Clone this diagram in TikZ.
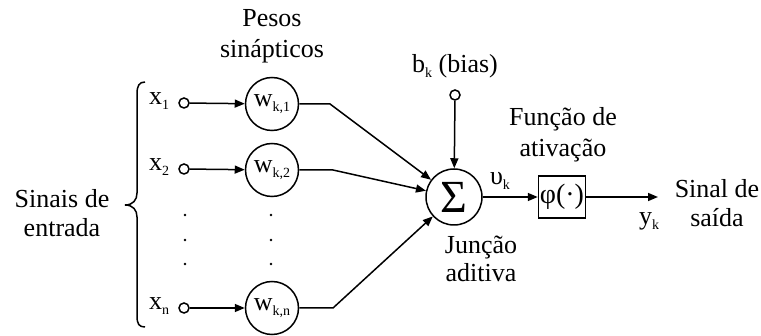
\documentclass[tikz,border=0pt]{standalone}
\usepackage{fontspec}
\setmainfont{Liberation Serif}
\newfontfamily\plainserif{Liberation Serif}
\usetikzlibrary{arrows.meta}
\newcommand\sbx[1]{\raisebox{-0.45ex}{\fontsize{7}{8}\selectfont #1}}
\tikzset{
  lbl/.style={font=\fontsize{13}{14.2}\selectfont, align=center, inner sep=0pt},
  var/.style={font=\fontsize{13}{15}\selectfont, inner sep=0pt},
  inp/.style={circle, draw, line width=0.75pt, minimum size=5pt, inner sep=0pt},
  wcirc/.style={circle, draw, line width=0.75pt, minimum size=26.5pt, inner sep=0pt, font=\fontsize{13}{15}\selectfont},
  sumc/.style={circle, draw, line width=0.75pt, minimum size=28pt, inner sep=0pt},
  actbox/.style={rectangle, draw, line width=0.75pt, minimum width=23.5pt, minimum height=21pt, inner sep=0pt, font=\fontsize{14}{15}\selectfont},
  arr/.style={line width=0.75pt, -{Triangle[length=5pt,width=4pt]}},
  ln/.style={line width=0.75pt},
  dotc/.style={circle, fill, minimum size=1.4pt, inner sep=0pt},
}
\begin{document}
\begin{tikzpicture}[x=0.5pt, y=-0.5pt]
\useasboundingbox (0,0) rectangle (761,336);
% labels
\node[lbl] (pesos) at (272,36) {Pesos\\[1.4pt]sinápticos};
\node[lbl] (sinais) at (62,213) {Sinais de\\entrada};
\node[lbl] (bias) at (455,66) {b\sbx{k} (bias)};
\node[lbl] (funcao) at (563,135) {Função de\\[1.4pt]ativação};
\node[lbl] (juncao) at (481,259) {Junção\\aditiva};
\node[lbl] (saida) at (717,203) {Sinal de\\saída};
% inputs
\node[var] (x1) at (159,101) {x\sbx{1}};
\node[var] (x2) at (159,167) {x\sbx{2}};
\node[var] (xn) at (159,306) {x\sbx{n}};
\node[inp] (i1) at (184,103) {};
\node[inp] (i2) at (184,169) {};
\node[inp] (in) at (184,308) {};
% weights
\node[wcirc] (w1) at (272,104) {w\sbx{k,1}};
\node[wcirc] (w2) at (272,170) {w\sbx{k,2}};
\node[wcirc] (wn) at (272,308) {w\sbx{k,n}};
% dots
\foreach \yy/\nm in {215/a,240/b,264/c} {
  \node[dotc] (dl\nm) at (185,\yy) {};
  \node[dotc] (dr\nm) at (271,\yy) {};
}
% sum, bias, activation
\node[sumc] (sum) at (454,197) {\plainserif\fontsize{23}{23}\selectfont Σ};
\node[inp] (bi) at (455,95) {};
\node[actbox] (phi) at (562,197) {φ(·)};
\node[var] (vk) at (500,181) {υ\sbx{k}};
\node[var] (yk) at (649,221) {y\sbx{k}};
% brace
\draw[ln] (145,82) .. controls (139,82) and (137,86) .. (137,94) -- (137,193)
  .. controls (137,200) and (133,205) .. (125,205)
  .. controls (133,205) and (137,210) .. (137,217) -- (137,316)
  .. controls (137,324) and (139,327) .. (145,327);
% connectors
\coordinate (b1) at (330,104);
\coordinate (b2) at (333,170);
\coordinate (bn) at (333,308);
\coordinate (out) at (658,197);
\draw[arr] (i1) -- (w1);
\draw[arr] (i2) -- (w2);
\draw[arr] (in) -- (wn);
\draw[arr] (w1) -- (b1) -- (sum);
\draw[arr] (w2) -- (b2) -- (sum);
\draw[arr] (wn) -- (bn) -- (sum);
\draw[arr] (bi) -- (sum);
\draw[arr] (sum) -- (phi);
\draw[arr] (phi) -- (out);
\end{tikzpicture}
\end{document}
